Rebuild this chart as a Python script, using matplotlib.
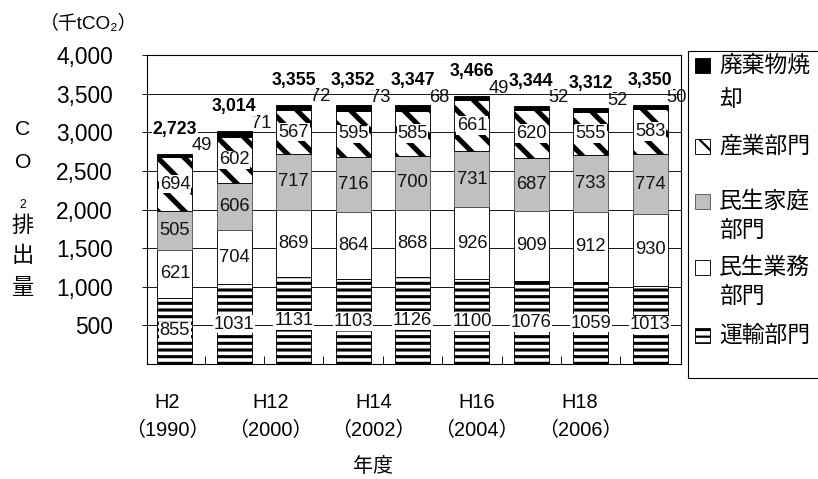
"""
CO2 emissions by sector, stacked bars (H2 .. H18)
"""
import matplotlib
matplotlib.use("Agg")
import matplotlib.pyplot as plt
from matplotlib.patches import Rectangle

plt.rcParams["font.family"] = ["Liberation Sans", "Noto Sans CJK JP", "DejaVu Sans"]

# ── data ──────────────────────────────────────────────────────────────────────
years       = ["H2", "H7", "H12", "H13", "H14", "H15", "H16", "H17", "H18"]
tick_text   = ["H2\n（1990）", "H12\n（2000）", "H14\n（2002）",
               "H16\n（2004）", "H18\n（2006）"]

transport   = [855, 1031, 1131, 1103, 1126, 1100, 1076, 1059, 1013]
commercial  = [621, 704, 869, 864, 868, 926, 909, 912, 930]
residential = [505, 606, 717, 716, 700, 731, 687, 733, 774]
industry    = [694, 602, 567, 595, 585, 661, 620, 555, 583]
waste       = [49, 71, 72, 73, 68, 49, 52, 52, 50]
totals      = [2723, 3014, 3355, 3352, 3347, 3466, 3344, 3312, 3350]

yticks      = [500, 1000, 1500, 2000, 2500, 3000, 3500, 4000]

# ── styles ────────────────────────────────────────────────────────────────────
DPI = 80
W, H = 818, 479
GRAY = "#c0c0c0"

# name, values, facecolor, edgecolor, hatch, hatch lw, white label box
SERIES = [
    ("運輸部門",   transport,   "white", "black",   "--", 2.8, True),
    ("民生業務部門", commercial,  "white", "black",   None, 1.0, False),
    ("民生家庭部門", residential, GRAY,    "#555555", None, 1.0, False),
    ("産業部門",   industry,    "white", "black",   "\\", 4.6, True),
    ("廃棄物焼却",  waste,       "black", "black",   None, 1.0, None),
]


def fx(px):
    return px / W


def fy(py):
    return 1 - py / H


fig = plt.figure(figsize=(W / DPI, H / DPI), dpi=DPI, facecolor="white")
ax = fig.add_axes([fx(147), fy(364), fx(681) - fx(147), fy(55) - fy(364)])

x = list(range(len(years)))
bottom = [0] * len(years)
for name, vals, fc, ec, hatch, hlw, box in SERIES:
    plt.rcParams["hatch.linewidth"] = hlw
    bars = ax.bar(x, vals, width=0.59, bottom=bottom, facecolor=fc,
                  edgecolor=ec, linewidth=0.8, hatch=hatch, zorder=3)
    for p in bars:
        if hasattr(p, "set_hatch_linewidth"):
            p.set_hatch_linewidth(hlw)
    if box is not None:
        for i, v in enumerate(vals):
            kw = {}
            if box:
                kw["bbox"] = dict(facecolor="white", edgecolor="none", pad=0.6)
            ax.text(i, bottom[i] + v / 2, str(v), ha="center", va="center",
                    fontsize=16.5, color="#111111", zorder=5, **kw)
    bottom = [b + v for b, v in zip(bottom, vals)]

# waste values, next to bar top
for i, (w, top) in enumerate(zip(waste, bottom)):
    ax.annotate(str(w), xy=(i + 0.45, top), xytext=(0, 7),
                textcoords="offset points", ha="center", va="center",
                fontsize=16.5, color="#111111", zorder=6)

# totals, bold above the bar
for i, t in enumerate(totals):
    ax.annotate(f"{t:,}", xy=(i, bottom[i]), xytext=(0, 22),
                textcoords="offset points", ha="center", va="center",
                fontsize=16, fontweight="bold", color="black", zorder=6,
                bbox=dict(facecolor="white", edgecolor="none", pad=0.3))

# ── axes ──────────────────────────────────────────────────────────────────────
ax.set_xlim(-0.47, 8.52)
ax.set_ylim(0, 4000)
ax.set_yticks(yticks)
ax.set_yticklabels([f"{v:,}" for v in yticks])
ax.tick_params(axis="y", length=4.5, width=0.8, pad=26, labelsize=20.5,
               colors="black")
ax.yaxis.grid(True, color="black", linewidth=0.8)
ax.set_axisbelow(True)

label_pos = [-0.135 + k * 1.739 for k in range(len(tick_text))]
ax.set_xticks(label_pos)
ax.set_xticklabels(tick_text)
ax.set_xticks([i + 0.5 for i in range(len(years) - 1)], minor=True)
ax.tick_params(axis="x", which="major", length=0, pad=26, labelsize=18)
ax.tick_params(axis="x", which="minor", direction="in", length=7, width=0.8)
for t in ax.get_xticklabels():
    t.set_linespacing(1.6)
for sp in ax.spines.values():
    sp.set_color("black")
    sp.set_linewidth(1.0)

# ── axis titles ───────────────────────────────────────────────────────────────
fig.text(fx(40), fy(24), "（千tCO₂）", fontsize=17, ha="left", va="center")
fig.text(fx(373), fy(467), "年度", fontsize=18, ha="center", va="center")
ylab = [("C", 129, 19), ("O", 162, 19), ("2", 205, 11),
        ("排", 226, 20), ("出", 257, 20), ("量", 289, 20)]
for ch, py, fs in ylab:
    fig.text(fx(23), fy(py), ch, fontsize=fs, ha="center", va="center")

# ── legend (drawn by hand, in pixel coordinates) ──────────────────────────────
lax = fig.add_axes([fx(688), fy(378), fx(850) - fx(688), fy(51) - fy(378)])
lax.set_xlim(688, 850)
lax.set_ylim(378, 51)
lax.set_xticks([])
lax.set_yticks([])
for sp in lax.spines.values():
    sp.set_color("black")
    sp.set_linewidth(1.0)

legend_rows = [
    (4, 65, ["廃棄物焼", "却"], 35),
    (3, 146, ["産業部門"], 0),
    (2, 201, ["民生家庭", "部門"], 30),
    (1, 267, ["民生業務", "部門"], 30),
    (0, 335, ["運輸部門"], 0),
]
for idx, hy, lines, step in legend_rows:
    name, vals, fc, ec, hatch, hlw, box = SERIES[idx]
    plt.rcParams["hatch.linewidth"] = hlw
    r = Rectangle((695, hy + 7.5), 15, -15, facecolor=fc, edgecolor=ec,
                  linewidth=0.8, hatch=hatch)
    if hasattr(r, "set_hatch_linewidth"):
        r.set_hatch_linewidth(min(hlw, 2.0))
    lax.add_patch(r)
    for k, line in enumerate(lines):
        lax.text(719, hy + k * step, line, fontsize=20.5, ha="left",
                 va="center")

fig.savefig("out.png", dpi=DPI, facecolor="white")
